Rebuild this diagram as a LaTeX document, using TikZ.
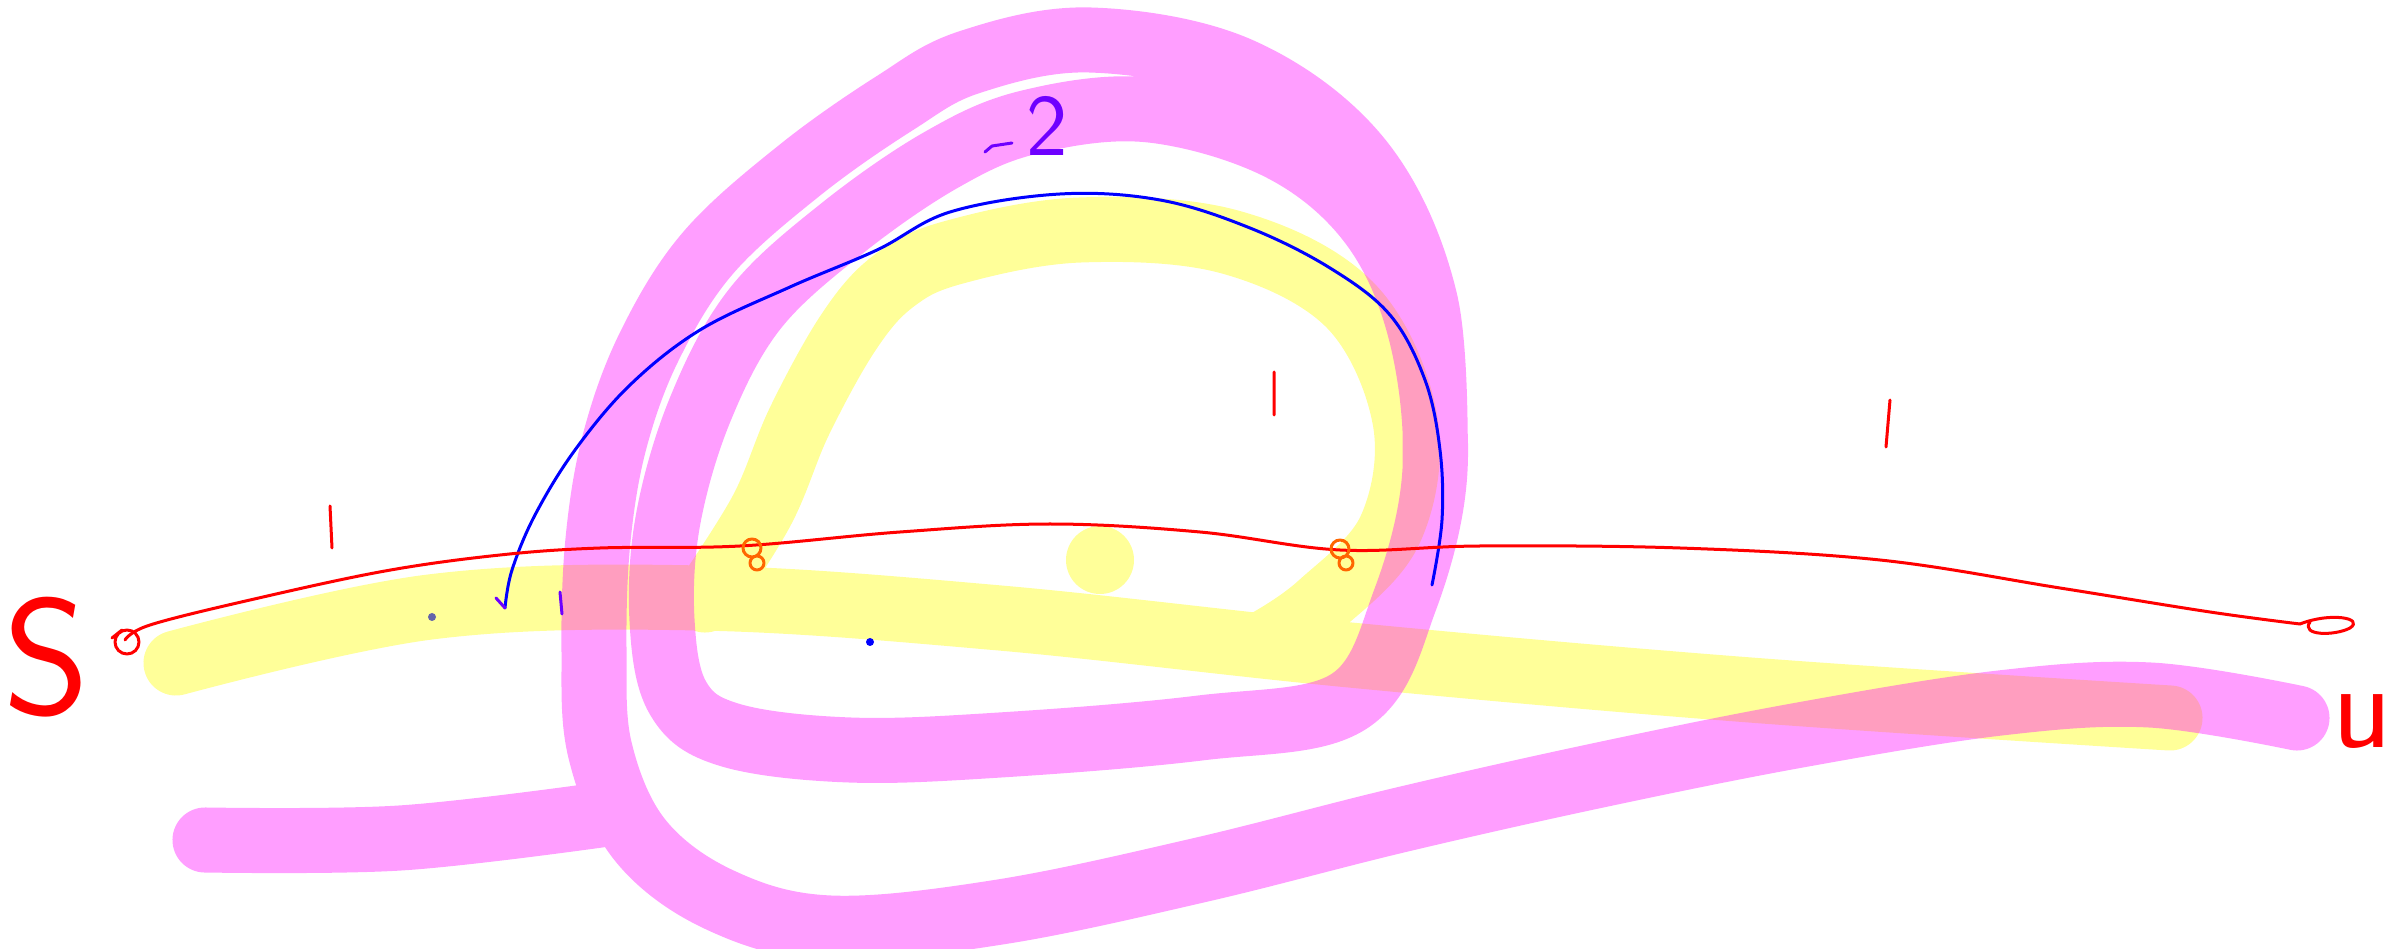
\documentclass[tikz,border=0pt]{standalone}
\usepackage{fontspec}
\definecolor{hlyellow}{RGB}{255, 255, 153}
\definecolor{hlpink}{RGB}{255, 0, 255}
\definecolor{penred}{RGB}{255, 0, 0}
\definecolor{penblue}{RGB}{0, 0, 255}
\definecolor{penorange}{RGB}{255, 102, 0}
\definecolor{penviolet}{RGB}{110, 0, 255}
\definecolor{dotgrey}{RGB}{100, 100, 170}
\usetikzlibrary{positioning}

\begin{document}
\begin{tikzpicture}[x=0.01cm, y=-0.01cm,
  marker/.style={line width=0.65cm, line cap=round, line join=round},
  pinkink/.style={marker, draw=hlpink, draw opacity=0.38},
  pen/.style={line width=0.03cm, line cap=round, line join=round},
  glyph/.style={font=\sffamily, inner sep=0pt}
]
  \useasboundingbox (0,0) rectangle (2393,949);

  % yellow highlighter
  \draw[marker, hlyellow]
    plot[smooth, tension=0.6] coordinates {(176,663) (430,607) (700,598) (1000,618) (1350,655) (1750,690) (2170,718)}
    plot[smooth, tension=0.6] coordinates {(705,600) (762,510) (800,420) (850,330) (895,280) (955,252) (1080,230) (1230,242) (1350,305) (1405,420) (1390,530) (1320,605) (1270,640)};
  \fill[hlyellow] (1100,560) circle (34);

  % pink highlighter, one path
  \draw[pinkink]
    plot[smooth, tension=0.6] coordinates {(205,840) (400,838) (600,815)}
    plot[smooth, tension=0.6] coordinates {(1435,470) (1425,300) (1360,160) (1240,70) (1090,40) (970,62) (895,103) (800,170) (708,253) (650,345) (615,440) (598,540) (594,650) (600,750) (640,840) (720,900) (830,928) (1000,912) (1200,870) (1400,820) (1600,775) (1800,735) (2000,703) (2150,695) (2297,718)}
    plot[smooth cycle, tension=0.6] coordinates {(1348,702) (1405,600) (1435,470) (1420,330) (1370,222) (1280,148) (1150,110) (1030,122) (941,160) (840,230) (754,310) (700,410) (668,520) (662,620) (678,698) (730,735) (850,750) (1000,745) (1200,728)};

  % blue curve
  \draw[pen, penblue] plot[smooth, tension=0.6] coordinates {(505,608) (512,570) (535,515) (575,450) (630,385) (700,330) (790,287) (877,250) (950,212) (1060,194) (1160,200) (1250,228) (1330,268) (1390,315) (1425,380) (1440,450) (1442,520) (1432,585)};
  \draw[pen, penviolet] (496,598) -- (505,608) (560,592) -- (562,614);

  % red line with ends
  \draw[pen, penred] plot[smooth, tension=0.6] coordinates {(125,640) (150,625) (250,600) (385,571) (500,555) (600,548) (740,546) (900,532) (1050,524) (1200,532) (1340,550) (1480,546) (1680,548) (1880,560) (2060,588) (2210,612) (2300,624)};
  \draw[pen, penred] (127,642) circle (12) (112,638) -- (122,630);
  \draw[pen, penred] (2300,624) .. controls (2330,612) and (2365,618) .. (2350,628) .. controls (2335,636) and (2300,636) .. (2310,622);
  \draw[pen, penred] (330,506) -- (332,548) (1274,372) -- (1274,415) (1890,400) -- (1886,447);

  % orange knots
  \draw[pen, penorange] (752,548) circle (9) (757,563) circle (7);
  \draw[pen, penorange] (1340,549) circle (9) (1346,563) circle (7);

  % dots
  \fill[dotgrey] (432,617) circle (4);
  \fill[penblue] (870,642) circle (4);

  % handwritten labels
  \node[glyph, text=penred, font=\sffamily\fontsize{47}{47}\selectfont] (lblS) at (47,657) {S};
  \node[glyph, text=penred, font=\sffamily\fontsize{35}{35}\selectfont] (lblU) at (2362,722) {u};
  \node[glyph, text=penviolet, font=\sffamily\fontsize{25}{25}\selectfont] (lblTwo) at (1047,126) {2};
  \draw[pen, penviolet] (985,152) -- (992,146) -- (1012,143);
\end{tikzpicture}
\end{document}
